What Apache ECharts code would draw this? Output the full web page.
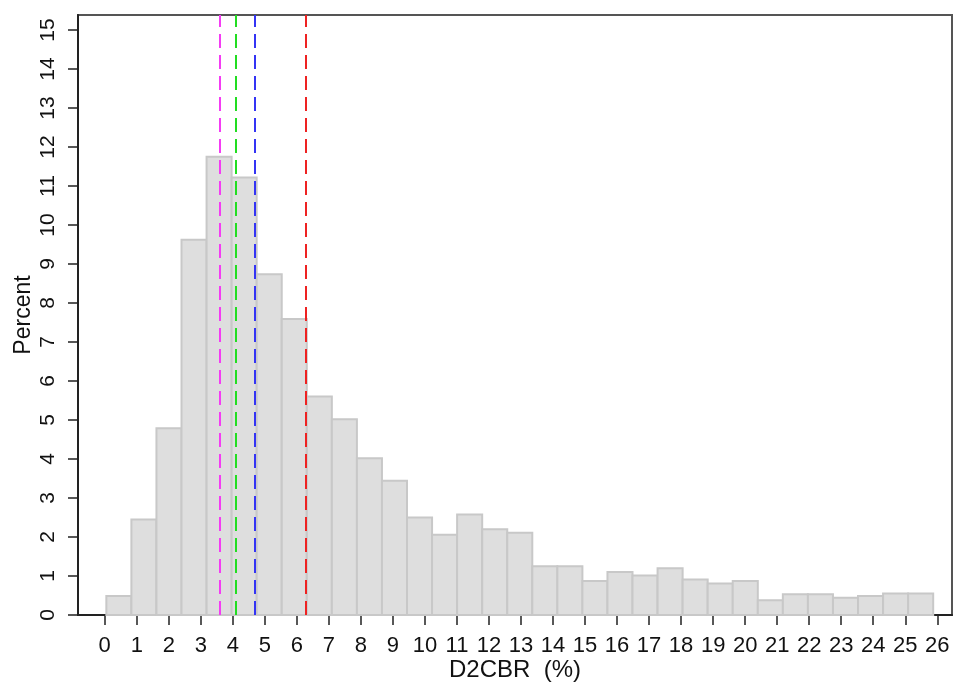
<!DOCTYPE html>
<html>
<head>
<meta charset="utf-8">
<script src="https://cdn.jsdelivr.net/npm/echarts@6/dist/echarts.min.js"></script>
<style>
  html, body { margin: 0; padding: 0; background: #fff; }
  #chart { width: 954px; height: 684px; }
</style>
</head>
<body>
<div id="chart"></div>
<script>
// histogram of D2CBR, 33 bins
var binStart = 0.05;    // left edge of first bin
var binWidth = 0.7825;  // bin width
var percents = [0.49, 2.45, 4.79, 9.62, 11.75, 11.22, 8.74, 7.59, 5.6, 5.02, 4.02,
                3.44, 2.5, 2.06, 2.58, 2.2, 2.11, 1.25, 1.25, 0.87, 1.1, 1.01,
                1.2, 0.91, 0.81, 0.87, 0.38, 0.53, 0.53, 0.44, 0.49, 0.55, 0.55];

var xTicks = [0, 1, 2, 3, 4, 5, 6, 7, 8, 9, 10, 11, 12, 13, 14, 15, 16, 17, 18, 19, 20, 21, 22, 23, 24, 25, 26];
var yTicks = [0, 1, 2, 3, 4, 5, 6, 7, 8, 9, 10, 11, 12, 13, 14, 15];

// reference lines (dashed)
var refValues = [3.59, 4.09, 4.69, 6.28];
var refColors = ['#f43cf4', '#22dd22', '#3434f4', '#ee2222'];

var bins = [];
for (var i = 0; i < percents.length; i++) {
    var lo = binStart + i * binWidth;
    bins.push([lo, lo + binWidth, percents[i]]);
}

var myChart = echarts.init(document.getElementById('chart'));

var axisColor = '#222';
var font = 'Liberation Sans, Arial, sans-serif';

var option = {
    animation: false,
    grid: {
        left: 78, right: 2, top: 15, bottom: 69,
        outerBoundsMode: 'none',
        containLabel: false,
        show: true,
        borderColor: '#555',
        borderWidth: 2
    },
    xAxis: {
        type: 'value',
        min: -0.835,
        max: 26.46,
        name: 'D2CBR  (%)',
        nameLocation: 'middle',
        nameGap: 43,
        nameMoveOverlap: false,
        nameTextStyle: { fontFamily: font, fontSize: 24, color: '#111' },
        axisLine: { onZero: false, lineStyle: { color: axisColor, width: 2 } },
        axisTick: { show: true, length: 10, customValues: xTicks, lineStyle: { color: axisColor, width: 1.5 } },
        axisLabel: { customValues: xTicks, margin: 20, fontFamily: font, fontSize: 22, color: '#111' },
        splitLine: { show: false }
    },
    yAxis: {
        type: 'value',
        min: 0,
        max: 15.385,
        name: 'Percent',
        nameLocation: 'middle',
        nameGap: 43,
        nameRotate: 90,
        nameMoveOverlap: false,
        nameTextStyle: { fontFamily: font, fontSize: 23, color: '#111' },
        axisLine: { show: true, onZero: false, lineStyle: { color: axisColor, width: 2 } },
        axisTick: { show: true, length: 10, customValues: yTicks, lineStyle: { color: axisColor, width: 1.5 } },
        axisLabel: { customValues: yTicks, rotate: 90, margin: 19, fontFamily: font, fontSize: 21, color: '#111' },
        splitLine: { show: false }
    },
    series: [
        {
            type: 'custom',
            data: bins,
            encode: { x: [0, 1], y: 2 },
            renderItem: function (params, api) {
                var p0 = api.coord([api.value(0), 0]);
                var p1 = api.coord([api.value(1), api.value(2)]);
                return {
                    type: 'rect',
                    shape: { x: p0[0], y: p1[1], width: p1[0] - p0[0], height: p0[1] - p1[1] },
                    style: { fill: '#dedede', stroke: '#c8c8c8', lineWidth: 2 }
                };
            },
            markLine: {
                silent: true,
                symbol: 'none',
                label: { show: false },
                data: refValues.map(function (v, k) {
                    return { xAxis: v, lineStyle: { color: refColors[k], type: [14, 7], width: 2 } };
                })
            }
        }
    ]
};

myChart.setOption(option, true);
</script>
</body>
</html>
